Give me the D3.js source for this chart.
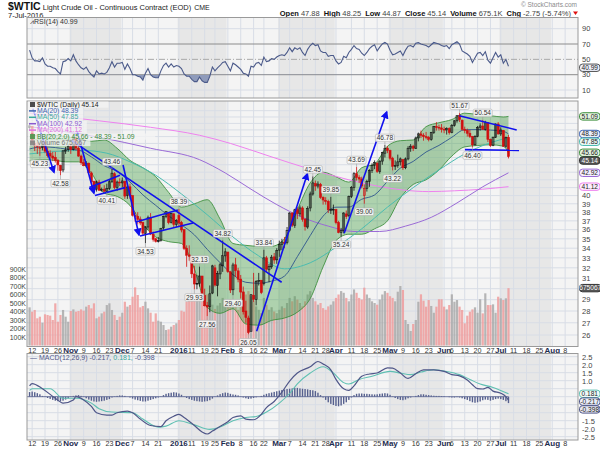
<!DOCTYPE html>
<html>
<head>
<meta charset="utf-8">
<script src="https://cdn.jsdelivr.net/npm/d3@7"></script>
<style>
body { margin: 0; background: #fff; }
text { font-family: "Liberation Sans", Arial, sans-serif; }
</style>
</head>
<body>
<div id="chart"></div>
<script>
// ---- data (index 0 = 9-Oct-2015, 186 = 7-Jul-2016) ----
var holidays = ["2015-11-26","2015-12-25","2016-01-01","2016-01-18","2016-02-15","2016-03-25","2016-05-30","2016-07-04"];

var opens = [49.4,49.5,47.0,46.7,46.3,46.4,47.2,45.9,45.6,45.2,
  45.0,44.6,43.9,43.3,45.9,46.1,46.5,46.1,47.9,46.3,
  45.2,44.3,43.9,44.2,42.9,41.8,40.8,41.7,40.7,40.8,
  40.5,40.9,41.8,42.8,41.0,41.7,41.6,41.8,40.0,41.1,
  40.0,37.6,37.5,37.2,36.8,35.6,36.3,37.4,35.5,35.0,
  34.8,34.8,36.2,37.5,37.9,36.8,37.8,36.6,37.6,36.8,
  36.0,34.0,33.3,33.1,31.4,30.5,30.5,31.2,29.4,28.5,
  28.4,29.6,32.0,30.3,31.4,32.2,33.2,33.6,31.6,29.9,
  32.3,31.7,30.9,29.7,28.0,27.4,26.3,29.4,29.0,30.7,
  30.8,30.5,33.0,31.8,32.1,33.1,32.8,33.8,34.4,34.6,
  34.6,35.9,37.9,36.5,38.3,37.8,38.5,37.2,36.3,38.5,
  40.2,41.5,41.2,41.4,39.8,39.4,39.3,38.3,38.3,38.3,
  36.8,35.7,35.9,37.8,37.6,39.9,41.0,42.8,42.3,42.1,
  40.0,40.9,41.8,43.2,43.9,44.2,43.1,44.5,45.6,46.3,
  46.0,44.9,43.8,43.9,44.4,44.7,43.6,44.8,46.3,46.6,
  46.3,47.8,48.4,48.2,48.0,47.9,47.6,48.6,49.5,49.4,
  49.3,49.1,49.0,49.2,48.6,49.7,50.4,51.2,50.5,49.1,
  48.9,48.5,48.0,46.8,48.0,49.4,49.6,49.1,50.1,47.6,
  46.7,47.9,49.9,48.4,48.9,46.6,47.88];
var highs = [49.9,49.6,47.3,47.2,47.0,47.4,47.3,46.4,46.0,45.8,
  45.8,44.8,44.0,46.0,46.5,46.9,47.0,48.36,47.9,46.6,
  45.4,44.8,44.5,44.3,43.1,41.9,41.9,42.0,41.0,41.3,
  41.5,42.0,43.46,43.0,41.9,42.2,42.3,41.9,41.5,41.5,
  40.0,38.0,38.0,37.5,36.9,36.4,37.6,37.9,35.8,35.1,
  35.2,36.2,37.6,38.1,38.0,37.9,37.9,37.2,38.39,37.0,
  36.0,34.3,34.3,33.2,32.2,31.3,32.13,31.2,30.0,28.8,
  30.3,32.3,32.3,31.7,32.5,34.82,34.0,33.6,31.7,32.5,
  33.0,32.0,31.3,30.2,28.9,27.6,29.5,31.5,30.8,31.5,
  30.8,33.84,33.2,32.4,33.3,33.5,34.0,34.8,35.0,35.2,
  36.3,38.0,38.0,38.4,38.6,38.8,38.7,37.3,38.7,40.5,
  42.45,41.9,41.8,41.6,39.9,39.8,39.5,39.85,38.9,38.4,
  37.0,36.2,38.0,38.2,40.0,41.2,43.0,43.69,42.6,42.4,
  41.4,42.0,43.4,44.2,44.6,44.4,44.6,45.8,46.78,46.6,
  46.1,45.1,44.6,45.4,45.0,44.8,45.0,46.6,46.9,46.8,
  48.0,48.6,48.9,48.5,48.7,48.1,48.7,49.6,50.2,49.8,
  49.9,49.5,49.4,49.4,49.9,50.5,51.3,51.67,50.6,49.5,
  49.2,49.0,48.1,48.2,49.6,50.0,50.54,50.4,50.2,47.7,
  48.0,50.0,50.2,49.4,49.0,48.0,48.25];
var lows = [48.9,46.9,45.9,45.5,45.23,46.0,45.6,45.0,44.6,44.5,
  44.3,43.2,42.58,43.0,45.5,45.8,45.5,46.0,46.0,45.1,
  44.0,43.8,43.6,42.7,41.5,40.5,40.5,40.6,40.5,40.5,
  40.41,40.7,41.6,40.8,40.6,41.2,41.0,39.6,39.6,39.6,
  37.5,36.9,36.6,36.5,35.4,34.53,36.0,35.4,34.7,34.6,
  34.6,34.7,36.0,37.3,36.6,36.7,36.3,36.3,36.3,35.7,
  33.8,32.1,32.7,31.0,29.93,29.95,30.2,29.1,28.4,27.56,
  27.9,29.5,30.2,29.3,30.9,31.6,32.6,31.5,29.6,29.40,
  31.1,30.6,29.1,27.7,27.0,26.05,26.3,28.8,28.5,30.3,
  29.5,30.3,31.6,30.6,31.9,32.4,32.4,33.1,33.8,34.0,
  34.4,35.8,36.3,36.2,37.2,37.5,36.9,35.9,36.1,38.1,
  40.0,40.6,40.9,39.6,38.9,38.9,37.9,37.8,37.7,36.6,
  35.6,35.24,35.6,37.2,37.4,39.7,40.6,41.9,41.6,40.9,
  39.0,40.5,41.1,42.9,43.4,42.9,42.8,44.0,45.0,45.6,
  44.6,43.22,43.3,43.6,43.9,43.3,43.4,44.6,45.8,45.9,
  46.2,47.3,47.8,47.4,47.6,47.3,47.4,48.4,48.9,48.9,
  48.6,48.5,48.3,48.3,48.5,49.5,50.1,50.2,48.9,48.5,
  48.0,47.8,46.4,46.7,47.9,48.9,49.0,48.9,47.2,46.5,
  46.6,47.8,48.3,48.1,46.5,46.4,44.87];
var closes = [49.63,47.10,46.66,46.64,46.38,47.26,45.89,45.29,45.20,44.91,
  44.60,43.98,43.20,45.94,46.06,46.59,46.14,47.90,46.32,45.20,
  44.29,43.87,44.21,42.93,41.75,40.74,41.74,40.67,40.75,40.54,
  40.90,41.75,42.87,41.00,41.71,41.65,41.85,39.94,41.08,39.97,
  37.65,37.51,37.16,36.76,35.62,36.31,37.35,35.52,34.95,34.73,
  34.74,36.14,37.50,38.10,36.81,37.87,36.60,37.04,36.76,35.97,
  33.97,33.27,33.16,31.41,30.44,30.48,31.20,29.42,28.46,28.35,
  29.53,32.19,30.34,31.45,32.30,33.22,33.62,31.62,29.88,32.28,
  31.72,30.89,29.69,27.94,27.45,26.21,29.44,29.04,30.66,30.77,
  29.64,33.00,31.87,32.15,33.07,32.78,33.75,34.40,34.66,34.57,
  35.92,37.90,36.50,38.29,37.84,38.50,37.18,36.34,38.46,40.20,
  41.60,41.20,41.45,39.79,39.46,39.39,38.28,38.32,38.34,36.79,
  35.70,35.89,37.90,37.50,39.90,41.00,42.80,42.30,42.10,41.20,
  40.90,41.80,43.20,43.90,44.30,43.10,44.50,45.70,46.30,46.00,
  44.90,43.80,43.90,44.40,44.80,43.60,44.80,46.30,46.60,46.30,
  47.80,48.40,48.20,48.00,47.90,47.60,48.60,49.50,49.40,49.30,
  49.10,49.00,49.20,48.60,49.70,50.40,51.20,50.60,49.10,48.90,
  48.50,48.00,46.80,48.00,49.40,49.60,49.10,50.10,47.60,46.70,
  47.90,49.90,48.40,49.00,46.60,47.89,45.14];
// volume in thousands
var volumes = [449,398,418,320,339,268,367,359,351,300,
  496,280,359,418,339,280,406,425,398,406,
  425,410,457,476,437,496,320,339,378,398,
  476,496,418,359,300,339,386,515,457,476,
  574,684,594,449,465,515,437,386,280,378,
  292,280,241,182,190,221,241,261,300,410,
  398,515,535,527,535,574,535,520,560,600,
  540,480,430,470,500,560,520,480,540,520,
  460,420,480,560,600,640,580,520,460,420,
  380,560,480,420,450,400,380,420,460,440,
  500,560,520,580,540,500,460,520,600,640,
  560,520,480,500,440,420,460,480,520,560,
  600,640,620,560,520,600,660,620,560,540,
  680,600,560,520,500,480,540,600,640,620,
  580,560,520,633,700,653,300,253,171,253,
  300,515,602,527,457,535,465,386,457,544,
  544,457,425,476,602,515,535,457,418,261,
  351,398,425,449,386,544,378,614,476,476,
  484,386,574,555,535,555,675];
var rsi = [62,52,48,48,47,52,44,41,41,39,38,
  34,31,47,48,51,48,56,48,43,39,
  37,40,34,30,27,35,31,32,31,33,
  39,47,40,45,45,46,37,44,38,30,
  30,28,27,23,32,38,30,27,26,26,
  35,42,45,40,44,40,42,41,38,31,
  28,28,24,21,21,27,22,20,20,28,
  40,35,39,42,46,47,41,35,45,43,
  40,37,32,31,28,41,40,45,46,42,
  53,47,48,51,50,53,55,56,55,59,
  65,60,65,63,65,59,55,63,68,71,
  68,69,61,59,59,54,55,55,48,44,
  46,54,52,59,63,68,64,63,58,55,
  59,64,67,69,61,66,70,72,70,62,
  56,57,59,61,55,62,67,68,66,71,
  72,70,69,68,66,69,72,71,70,68,
  67,68,64,69,71,73,70,61,59,57,
  54,46,52,58,59,55,60,49,45,52,
  59,53,56,45,50,41];
var macdHist = [0.29,0.32,0.28,0.22,0.15,0.05,-0.02,-0.08,-0.14,-0.2,-0.25,
  -0.28,-0.3,-0.25,-0.18,-0.1,-0.02,0.05,0.08,0.1,0.05,
  -0.02,-0.1,-0.18,-0.25,-0.3,-0.32,-0.3,-0.28,-0.25,-0.2,
  -0.15,-0.05,0.02,0.05,0.08,0.08,0.05,0.0,-0.05,-0.12,
  -0.18,-0.22,-0.26,-0.3,-0.3,-0.25,-0.2,-0.15,-0.1,-0.05,
  0.02,0.1,0.18,0.22,0.25,0.28,0.26,0.2,0.12,0.02,
  -0.08,-0.15,-0.2,-0.25,-0.28,-0.3,-0.32,-0.3,-0.28,-0.22,
  -0.12,-0.02,0.08,0.16,0.22,0.26,0.24,0.18,0.14,0.12,
  0.08,0.02,-0.05,-0.1,-0.14,-0.12,-0.08,-0.04,0.0,0.05,
  0.12,0.18,0.22,0.26,0.3,0.34,0.38,0.42,0.45,0.48,
  0.5,0.52,0.55,0.55,0.52,0.5,0.48,0.46,0.42,0.4,
  0.35,0.25,0.1,-0.05,-0.2,-0.35,-0.45,-0.52,-0.58,-0.6,
  -0.55,-0.45,-0.35,-0.2,-0.05,0.1,0.18,0.2,0.2,0.18,
  0.18,0.16,0.15,0.14,0.15,0.18,0.2,0.22,0.2,0.12,
  0.02,-0.08,-0.15,-0.2,-0.22,-0.18,-0.1,-0.05,0.0,0.05,
  0.1,0.15,0.15,0.12,0.1,0.08,0.06,0.05,0.05,0.04,
  0.03,0.0,-0.03,-0.05,-0.05,-0.03,-0.05,-0.1,-0.15,-0.2,
  -0.28,-0.35,-0.38,-0.35,-0.3,-0.22,-0.18,-0.2,-0.25,-0.2,
  -0.15,-0.12,-0.15,-0.2,-0.28,-0.4];
// indicator lines, [index, value]
var macdLine = [[0,0.68],[1,0.82],[5,0.5],[10,-0.1],[13,-0.4],[17,-0.2],[18,0],[21,-0.2],[24,-0.6],[26,-1.0],[30,-1.15],[32,-1.15],[34,-1.0],[38,-0.9],[40,-1.0],[43,-1.4],[47,-1.8],[51,-1.87],[53,-1.5],[56,-1.22],[58,-1.1],[60,-1.3],[64,-1.8],[67,-2.2],[69,-2.33],[71,-2.15],[73,-1.95],[77,-1.56],[79,-1.3],[82,-1.2],[84,-1.4],[87,-1.44],[90,-1.1],[92,-0.68],[95,-0.3],[98,0.28],[101,0.98],[104,1.48],[109,1.87],[112,2.2],[114,2.05],[117,1.68],[119,1.08],[122,0.49],[124,0.39],[126,0.68],[129,1.28],[132,1.42],[135,1.48],[139,1.8],[141,1.78],[144,1.48],[147,1.14],[150,1.44],[153,1.68],[157,1.68],[161,1.58],[164,1.38],[167,1.3],[170,1.05],[172,0.75],[174,0.5],[176,0.48],[178,0.58],[180,0.35],[183,0.22],[185,0.0],[186,-0.217]];
var signalLine = [[0,0.39],[1,0.5],[8,0.5],[13,-0.1],[18,-0.1],[24,-0.4],[27,-0.75],[32,-0.96],[40,-1.0],[44,-1.4],[50,-1.9],[53,-1.84],[58,-1.5],[64,-1.76],[70,-2.04],[74,-1.9],[79,-1.5],[84,-1.3],[88,-1.24],[92,-0.96],[97,-0.4],[101,0.2],[104,0.8],[109,1.48],[114,1.87],[118,1.48],[122,0.88],[124,0.79],[128,1.08],[133,1.28],[140,1.58],[144,1.48],[148,1.38],[152,1.54],[157,1.68],[162,1.58],[167,1.38],[171,1.08],[175,0.79],[180,0.58],[186,0.181]];
var ma20 = [[0,46.2],[5,46.5],[10,46.4],[14,46.2],[19,46.04],[24,45.08],[29,43.87],[34,43.09],[39,41.71],[44,40.09],[49,38.81],[54,37.57],[59,36.55],[64,35.43],[69,33.88],[74,32.51],[79,31.33],[84,30.6],[89,30.51],[94,30.71],[99,31.19],[104,33.12],[109,35.35],[114,37.54],[119,38.59],[124,38.61],[129,39.55],[134,40.08],[139,41.8],[144,43.55],[149,44.46],[154,45.77],[159,46.71],[164,47.9],[169,49.03],[174,49.05],[179,48.98],[184,48.79],[186,48.39]];
var bbUpper = [[0,48.0],[5,48.3],[10,48.2],[14,48.0],[19,47.7],[24,47.3],[29,47.5],[34,46.3],[39,44.6],[44,43.6],[49,42.4],[54,40.4],[59,38.6],[64,39.0],[69,39.5],[74,37.2],[79,34.5],[84,34.3],[89,34.2],[94,34.2],[99,35.0],[104,38.3],[109,41.6],[114,43.0],[119,42.4],[124,41.7],[129,43.6],[134,44.1],[139,46.6],[144,47.4],[149,47.5],[154,49.5],[159,50.1],[164,50.6],[169,51.6],[174,51.4],[179,51.2],[184,51.0],[186,51.09]];
var bbLower = [[0,44.5],[5,44.7],[10,44.6],[14,44.4],[19,44.4],[24,42.9],[29,40.3],[34,39.9],[39,38.8],[44,36.6],[49,35.2],[54,34.7],[59,34.5],[64,31.9],[69,28.3],[74,27.8],[79,28.2],[84,26.9],[89,26.8],[94,27.2],[99,27.4],[104,27.9],[109,29.1],[114,32.1],[119,34.8],[124,35.5],[129,35.5],[134,36.1],[139,37.0],[144,39.7],[149,41.4],[154,42.0],[159,43.3],[164,45.2],[169,46.5],[174,46.7],[179,46.8],[184,46.6],[186,45.66]];
var ma50 = [[0,45.5],[20,46.0],[30,45.6],[39,44.4],[49,42.6],[59,40.2],[69,37.7],[79,35.2],[89,33.2],[99,31.9],[109,32.5],[119,34.1],[129,36.1],[139,38.6],[149,41.0],[159,43.3],[169,45.5],[179,47.1],[186,47.85]];
var ma100 = [[0,49.5],[27,47.9],[47,46.3],[66,44.7],[76,42.9],[86,40.8],[96,38.9],[106,37.4],[116,36.4],[126,35.8],[136,35.8],[146,36.4],[156,37.4],[166,39.1],[176,41.1],[186,42.92]];
var ma200 = [[0,51.6],[27,50.4],[47,49.4],[66,48.2],[78,47.0],[93,45.2],[109,43.4],[124,42.0],[135,41.2],[145,40.7],[155,40.5],[165,40.6],[176,40.8],[186,41.12]];
// hand-drawn trend lines from the chart, [index, price]
var trendLines = [
  {a:[1.3,52.3], b:[9.5,43.0], arrow:true},
  {a:[18.5,48.8], b:[25.0,40.3], arrow:true},
  {a:[16.4,47.4], b:[97.9,30.6], arrow:false},
  {a:[23.2,41.0], b:[35.1,42.6], arrow:false},
  {a:[25.4,40.0], b:[37.1,41.0], arrow:false},
  {a:[36.3,43.97], b:[42.5,35.42], arrow:true},
  {a:[41.3,36.87], b:[57.6,38.25], arrow:false},
  {a:[42.9,35.31], b:[63.5,36.76], arrow:false},
  {a:[88.2,26.3], b:[107.9,42.8], arrow:true},
  {a:[122.2,35.6], b:[138.7,51.8], arrow:true},
  {a:[166.9,51.2], b:[189.2,49.0], arrow:false},
  {a:[169.1,46.1], b:[190.1,46.0], arrow:false}
];
// peak / trough labels: [index, price, above?]
var peakLabels = [[4,45.23,0],[12,42.58,0],[32,43.46,1],[30,40.41,0],[45,34.53,0],[58,38.39,1],
  [75,34.82,1],[66,32.13,1],[64,29.93,0],[69,27.56,0],[79,29.40,0],[85,26.05,0],[91,33.84,1],
  [110,42.45,1],[117,39.85,1],[121,35.24,0],[127,43.69,1],[130,39.00,0],[138,46.78,1],
  [141,43.22,0],[167,51.67,1],[176,50.54,1],[172,46.40,0]];
var dateTicks = [["2015-10-12","12"],["2015-10-19","19"],["2015-10-26","26"],["2015-11-02","Nov"],["2015-11-09","9"],
  ["2015-11-16","16"],["2015-11-23","23"],["2015-12-01","Dec"],["2015-12-07","7"],["2015-12-14","14"],["2015-12-21","21"],
  ["2016-01-04","2016"],["2016-01-11","11"],["2016-01-19","19"],["2016-01-25","25"],["2016-02-01","Feb"],["2016-02-08","8"],
  ["2016-02-16","16"],["2016-02-22","22"],["2016-03-01","Mar"],["2016-03-07","7"],["2016-03-14","14"],["2016-03-21","21"],
  ["2016-03-28","28"],["2016-04-01","Apr"],["2016-04-11","11"],["2016-04-18","18"],["2016-04-25","25"],["2016-05-02","May"],
  ["2016-05-09","9"],["2016-05-16","16"],["2016-05-23","23"],["2016-06-01","Jun"],["2016-06-06","6"],["2016-06-13","13"],
  ["2016-06-20","20"],["2016-06-27","27"],["2016-07-01","Jul"],["2016-07-11","11"],["2016-07-18","18"],["2016-07-25","25"],
  ["2016-08-01","Aug"],["2016-08-08","8"]];
var priceTicks = d3.range(26, 53);
var rsiTicks = [10, 30, 50, 70, 90];
var macdTicks = [-2.5,-2,-1.5,-1,-0.5,0,0.5,1,1.5,2,2.5];
var volTicks = [100,200,300,400,500,600,700,800,900];
// value tags on the right edge: [value, text, stroke, fill, text colour]
var priceTags = [[51.09,"51.09","#3f913f","#e2f2de","#222"],[48.39,"48.39","#3a60b0","#eceffa","#222"],
  [47.85,"47.85","#4bbcb0","#e8f7f5","#222"],[45.66,"45.66","#3f913f","#e2f2de","#222"],[45.14,"45.14","#333","#555","#fff"],
  [42.92,"42.92","#9a6ad6","#f3eefe","#222"],[41.12,"41.12","#ee82ee","#fdeefd","#222"]];
var macdTags = [[0.181,"0.181","#5fc0b2","#eefaf8","#222"],[-0.217,"-0.217","#4f5688","#eceffa","#222"],[-0.398,"-0.398","#4f5688","#e4e6f0","#222"]];

// ---- trading calendar ----
var days = [];
(function() {
  var d = new Date(Date.UTC(2015, 9, 9)), end = Date.UTC(2016, 7, 31);
  while (d.getTime() <= end) {
    var wd = d.getUTCDay(), s = d.toISOString().slice(0, 10);
    if (wd > 0 && wd < 6 && holidays.indexOf(s) < 0) days.push(s);
    d.setUTCDate(d.getUTCDate() + 1);
  }
})();
var dayIdx = {};
days.forEach(function(s, i) { dayIdx[s] = i; });

var n = closes.length;
var L = 27, R = 578;
var panels = { rsi: [17.5, 98], main: [101, 346.5], macd: [353.5, 440] };

var x = d3.scaleLinear().domain([-1, 213]).range([L, R]);
var rsiY = d3.scaleLinear().domain([0, 100]).range([97.7, 21]);
var py = d3.scaleLog().domain([26, 52]).range([335, 110.7]);
var volY = d3.scaleLinear().domain([0, 1000]).range([345.5, 260.5]);
var macdY = d3.scaleLinear().domain([-2.5, 2.5]).range([436.7, 356.7]);

var svg = d3.select("#chart").append("svg").attr("width", 600).attr("height", 450);
var defs = svg.append("defs");
defs.append("marker").attr("id", "arr").attr("viewBox", "0 0 10 10").attr("refX", 8).attr("refY", 5)
  .attr("markerWidth", 5).attr("markerHeight", 5).attr("orient", "auto")
  .append("path").attr("d", "M0,0L10,5L0,10z").attr("fill", "#1010ee");

var gridCol = "#d8dde6", upCol = "#111", dnCol = "#d01010";
function isUp(i) { return i === 0 ? true : closes[i] >= closes[i - 1]; }

// month boundaries for shading
var months = [];
days.forEach(function(s, i) {
  var m = s.slice(0, 7);
  if (!months.length || months[months.length - 1].m !== m) months.push({ m: m, start: i });
});
months.forEach(function(o, k) { o.end = k < months.length - 1 ? months[k + 1].start : 213; o.k = k; });

function panelBase(name) {
  var p = panels[name];
  var g = svg.append("g");
  defs.append("clipPath").attr("id", "clip-" + name).append("rect")
    .attr("x", L).attr("y", p[0]).attr("width", R - L).attr("height", p[1] - p[0]);
  g.append("rect").attr("x", L).attr("y", p[0]).attr("width", R - L).attr("height", p[1] - p[0]).attr("fill", "#f4f4f4");
  var inner = g.append("g").attr("clip-path", "url(#clip-" + name + ")");
  inner.selectAll(".band").data(months.filter(function(o) { return o.k % 2 === 1; })).enter().append("rect")
    .attr("x", function(o) { return x(o.start - 0.5); }).attr("width", function(o) { return x(o.end - 0.5) - x(o.start - 0.5); })
    .attr("y", p[0]).attr("height", p[1] - p[0]).attr("fill", "#e7e7e7");
  inner.selectAll(".vg").data(dateTicks).enter().append("line")
    .attr("x1", function(t) { return x(dayIdx[t[0]]); }).attr("x2", function(t) { return x(dayIdx[t[0]]); })
    .attr("y1", p[0]).attr("y2", p[1]).attr("stroke", gridCol).attr("stroke-width", 1);
  return { g: g, inner: inner, p: p };
}
function frame(pb) {
  pb.g.append("rect").attr("x", L).attr("y", pb.p[0]).attr("width", R - L).attr("height", pb.p[1] - pb.p[0])
    .attr("fill", "none").attr("stroke", "#9a9a9a").attr("stroke-width", 1);
}
function rightText(y, txt) {
  svg.append("text").attr("x", R + 4).attr("y", y + 2.8).attr("font-size", 7.5).attr("fill", "#444").text(txt);
}
function tag(y, txt, stroke, fill, col, w) {
  var g = svg.append("g");
  g.append("rect").attr("x", R + 1.5).attr("y", y - 3.7).attr("width", w || 20.5).attr("height", 7.4).attr("rx", 3)
    .attr("fill", fill).attr("stroke", stroke).attr("stroke-width", 1);
  g.append("text").attr("x", R + 1.5 + (w || 20.5) / 2).attr("y", y + 2.3).attr("text-anchor", "middle").attr("font-size", 6.6)
    .attr("fill", col).text(txt);
}
// spread tags apart so they do not sit on each other, returns display positions
function spread(ys, gap) {
  var out = ys.slice();
  for (var k = 1; k < out.length; k++) if (out[k] - out[k - 1] < gap) out[k] = out[k - 1] + gap;
  return out;
}
function lineOf(pts, yScale) {
  return d3.line().x(function(d) { return x(d[0]); }).y(function(d) { return yScale(d[1]); }).curve(d3.curveMonotoneX)(pts);
}

// ---- header ----
var head = svg.append("text").attr("x", 8).attr("y", 10);
head.append("tspan").attr("font-size", 10.5).attr("font-weight", "bold").attr("fill", "#111").text("$WTIC");
head.append("tspan").attr("font-size", 7.5).attr("fill", "#222").text(" Light Crude Oil - Continuous Contract (EOD)");
head.append("tspan").attr("font-size", 7).attr("fill", "#222").attr("dx", 3).text("CME");
svg.append("text").attr("x", 8).attr("y", 17.5).attr("font-size", 7.5).attr("fill", "#222").text("7-Jul-2016");
svg.append("text").attr("x", 577).attr("y", 7).attr("text-anchor", "end").attr("font-size", 6.5).attr("fill", "#8a8a8a").text("\u00a9 StockCharts.com");
var ohlc = svg.append("text").attr("x", 571).attr("y", 16).attr("text-anchor", "end").attr("font-size", 7.5);
[["Open", "47.88"], ["High", "48.25"], ["Low", "44.87"], ["Close", "45.14"], ["Volume", "675.1K"], ["Chg", "-2.75 (-5.74%)"]].forEach(function(p, k) {
  ohlc.append("tspan").attr("font-weight", "bold").attr("fill", "#111").attr("dx", k ? 4 : 0).text(p[0]);
  ohlc.append("tspan").attr("fill", "#444").attr("dx", 2).text(p[1]);
});
svg.append("path").attr("d", "M573,11.5L578,11.5L575.5,15z").attr("fill", "#e01010");

// ---- RSI panel ----
var rp = panelBase("rsi");
rp.inner.selectAll(".hg").data(rsiTicks).enter().append("line").attr("x1", L).attr("x2", R)
  .attr("y1", function(v) { return rsiY(v); }).attr("y2", function(v) { return rsiY(v); })
  .attr("stroke", function(v) { return v === 70 || v === 30 ? "#8c8c8c" : (v === 50 ? "#a8a8a8" : gridCol); })
  .attr("stroke-dasharray", function(v) { return v === 50 ? "6,2,1,2" : null; });
var rsiPts = rsi.map(function(v, i) { return [i, v]; });
defs.append("clipPath").attr("id", "rsiLo").append("rect").attr("x", L).attr("y", rsiY(30)).attr("width", R - L).attr("height", 30);
defs.append("clipPath").attr("id", "rsiHi").append("rect").attr("x", L).attr("y", 10).attr("width", R - L).attr("height", rsiY(70) - 10);
rp.inner.append("path").attr("clip-path", "url(#rsiLo)").attr("fill", "#8f9bbb")
  .attr("d", d3.area().x(function(d) { return x(d[0]); }).y0(rsiY(30)).y1(function(d) { return rsiY(d[1]); })(rsiPts));
rp.inner.append("path").attr("clip-path", "url(#rsiHi)").attr("fill", "#8f9bbb")
  .attr("d", d3.area().x(function(d) { return x(d[0]); }).y0(rsiY(70)).y1(function(d) { return rsiY(d[1]); })(rsiPts));
rp.inner.append("path").attr("d", d3.line().x(function(d) { return x(d[0]); }).y(function(d) { return rsiY(d[1]); })(rsiPts))
  .attr("fill", "none").attr("stroke", "#4b5a8a").attr("stroke-width", 1.1);
frame(rp);
svg.append("text").attr("x", 30).attr("y", 23.5).attr("font-size", 7).attr("fill", "#333").text("\u2a58RSI(14) 40.99");
rsiTicks.forEach(function(v) { rightText(rsiY(v), v); });
tag(rsiY(40.99) + 1.5, "40.99", "#555", "#eceffa", "#222");

// ---- main price panel ----
var mp = panelBase("main");
mp.inner.selectAll(".hg").data(priceTicks).enter().append("line").attr("x1", L).attr("x2", R)
  .attr("y1", function(v) { return py(v); }).attr("y2", function(v) { return py(v); }).attr("stroke", gridCol);
// volume
mp.inner.selectAll(".vol").data(volumes).enter().append("rect")
  .attr("x", function(v, i) { return x(i) - 1.1; }).attr("width", 2.2)
  .attr("y", function(v) { return volY(v); }).attr("height", function(v) { return volY(0) - volY(v); })
  .attr("fill", function(v, i) { return isUp(i) ? "#a9a9a9" : "#ee9c9c"; }).attr("opacity", 0.85);
// bollinger band
var bbArea = d3.area().x(function(d) { return x(d[0]); }).y0(function(d, k) { return py(bbLower[k][1]); })
  .y1(function(d) { return py(d[1]); }).curve(d3.curveMonotoneX);
mp.inner.append("path").attr("d", bbArea(bbUpper)).attr("fill", "#3d9a3d").attr("fill-opacity", 0.38);
[bbUpper, bbLower].forEach(function(s) {
  mp.inner.append("path").attr("d", lineOf(s, py)).attr("fill", "none").attr("stroke", "#3f913f").attr("stroke-width", 0.9);
});
[[ma200, "#ee82ee"], [ma100, "#9a6ad6"], [ma50, "#4bbcb0"], [ma20, "#3a6090"]].forEach(function(m) {
  mp.inner.append("path").attr("d", lineOf(m[0], py)).attr("fill", "none").attr("stroke", m[1]).attr("stroke-width", 1);
});
// candles
var cidx = d3.range(n);
mp.inner.selectAll(".wick").data(cidx).enter().append("line")
  .attr("x1", function(i) { return x(i); }).attr("x2", function(i) { return x(i); })
  .attr("y1", function(i) { return py(highs[i]); }).attr("y2", function(i) { return py(lows[i]); })
  .attr("stroke", function(i) { return isUp(i) ? upCol : dnCol; }).attr("stroke-width", 0.8);
mp.inner.selectAll(".body").data(cidx).enter().append("rect")
  .attr("x", function(i) { return x(i) - 1; }).attr("width", 2)
  .attr("y", function(i) { return py(Math.max(opens[i], closes[i])); })
  .attr("height", function(i) { return Math.max(0.8, Math.abs(py(opens[i]) - py(closes[i]))); })
  .attr("fill", function(i) { return closes[i] < opens[i] ? (isUp(i) ? upCol : dnCol) : "none"; })
  .attr("stroke", function(i) { return isUp(i) ? upCol : dnCol; }).attr("stroke-width", 0.6);
// trend lines
trendLines.forEach(function(t) {
  mp.inner.append("line").attr("x1", x(t.a[0])).attr("y1", py(t.a[1])).attr("x2", x(t.b[0])).attr("y2", py(t.b[1]))
    .attr("stroke", "#1010ee").attr("stroke-width", 1.6).attr("marker-end", t.arrow ? "url(#arr)" : null);
});
// peak labels
peakLabels.forEach(function(p) {
  var cx = x(p[0]), y0 = py(p[1]), ty = p[2] ? y0 - 7 : y0 + 8;
  var g = mp.inner.append("g");
  g.append("line").attr("x1", cx).attr("x2", cx).attr("y1", y0).attr("y2", p[2] ? ty + 3 : ty - 3).attr("stroke", "#999").attr("stroke-width", 0.6);
  g.append("rect").attr("x", cx - 9.5).attr("y", ty - 3.8).attr("width", 19).attr("height", 7.6).attr("rx", 1.5)
    .attr("fill", "#f6f6f6").attr("fill-opacity", 0.9).attr("stroke", "#b0b0b0").attr("stroke-width", 0.6);
  g.append("text").attr("x", cx).attr("y", ty + 2.4).attr("text-anchor", "middle").attr("font-size", 6.6).attr("fill", "#333").text(p[1].toFixed(2));
});
frame(mp);
// legend
var leg = [["$WTIC (Daily) 45.14", "#222", "candle"], ["MA(20) 48.39", "#3a60b0", "line"], ["MA(50) 47.85", "#3aa89c", "line"],
  ["MA(100) 42.92", "#8a5ad0", "line"], ["MA(200) 41.12", "#e070e0", "line"], ["BB(20,2.0) 45.66 - 48.39 - 51.09", "#3a8a3a", "bb"],
  ["Volume 675,067", "#777", "vol"]];
leg.forEach(function(l, k) {
  var y = 106.5 + k * 6.4;
  svg.append("rect").attr("x", 28).attr("y", y - 5).attr("width", l[0].length * 3.6 + 12).attr("height", 6.2).attr("fill", "#f4f4f4").attr("fill-opacity", 0.75);
  if (l[2] === "line") svg.append("line").attr("x1", 29).attr("x2", 36).attr("y1", y - 2).attr("y2", y - 2).attr("stroke", l[1]).attr("stroke-width", 1.5);
  else svg.append("rect").attr("x", 30).attr("y", y - 4.5).attr("width", 5).attr("height", 5).attr("fill", l[1]).attr("opacity", 0.8);
  svg.append("text").attr("x", 37).attr("y", y).attr("font-size", 6.8).attr("fill", l[1]).text(l[0]);
});
var ptY = spread(priceTags.map(function(t) { return py(t[0]); }), 7.8);
var volTagY = volY(675);
priceTicks.forEach(function(v) {
  var y = py(v);
  if (ptY.concat([volTagY]).every(function(t) { return Math.abs(t - y) > 7; })) rightText(y, v);
});
priceTags.forEach(function(t, k) { tag(ptY[k], t[1], t[2], t[3], t[4]); });
tag(volTagY, "675067", "#333", "#555", "#fff", 21.5);
volTicks.forEach(function(v) {
  svg.append("text").attr("x", 26).attr("y", volY(v) + 2.6).attr("text-anchor", "end").attr("font-size", 7).attr("fill", "#444").text(v + "K");
});

// ---- date axis labels ----
function dateLabels(y) {
  dateTicks.forEach(function(t) {
    var isMonth = isNaN(+t[1]) || t[1] === "2016";
    svg.append("text").attr("x", x(dayIdx[t[0]])).attr("y", y).attr("text-anchor", "middle")
      .attr("font-size", isMonth ? 8 : 7.2).attr("font-weight", isMonth ? "bold" : "normal")
      .attr("fill", isMonth ? "#1d2b4f" : "#333").text(t[1]);
  });
}
dateLabels(352.5);

// ---- MACD panel ----
var cp = panelBase("macd");
cp.inner.selectAll(".hg").data(macdTicks).enter().append("line").attr("x1", L).attr("x2", R)
  .attr("y1", function(v) { return macdY(v); }).attr("y2", function(v) { return macdY(v); }).attr("stroke", gridCol);
cp.inner.selectAll(".hist").data(macdHist).enter().append("rect")
  .attr("x", function(v, i) { return x(i) - 0.7; }).attr("width", 1.4)
  .attr("y", function(v) { return Math.min(macdY(v), macdY(0)); })
  .attr("height", function(v) { return Math.abs(macdY(v) - macdY(0)); }).attr("fill", "#56608e");
cp.inner.append("line").attr("x1", L).attr("x2", x(186)).attr("y1", macdY(0)).attr("y2", macdY(0)).attr("stroke", "#56608e").attr("stroke-width", 0.8);
cp.inner.append("path").attr("d", lineOf(signalLine, macdY)).attr("fill", "none").attr("stroke", "#5fc0b2").attr("stroke-width", 1.1);
cp.inner.append("path").attr("d", lineOf(macdLine, macdY)).attr("fill", "none").attr("stroke", "#4f5688").attr("stroke-width", 1.2);
frame(cp);
var ml = svg.append("text").attr("x", 30).attr("y", 360).attr("font-size", 7);
ml.append("tspan").attr("fill", "#4f5688").text("\u2014 MACD(12,26,9) -0.217,");
ml.append("tspan").attr("fill", "#3aa89c").attr("dx", 2).text("0.181,");
ml.append("tspan").attr("fill", "#4f5688").attr("dx", 2).text("-0.398");
var mtY = spread(macdTags.map(function(t) { return macdY(t[0]); }), 7.8);
macdTicks.forEach(function(v) {
  var y = macdY(v);
  if (mtY.every(function(t) { return Math.abs(t - y) > 7; })) rightText(y, v.toFixed(1));
});
macdTags.forEach(function(t, k) { tag(mtY[k], t[1], t[2], t[3], t[4]); });
dateLabels(446);
</script>
</body>
</html>
